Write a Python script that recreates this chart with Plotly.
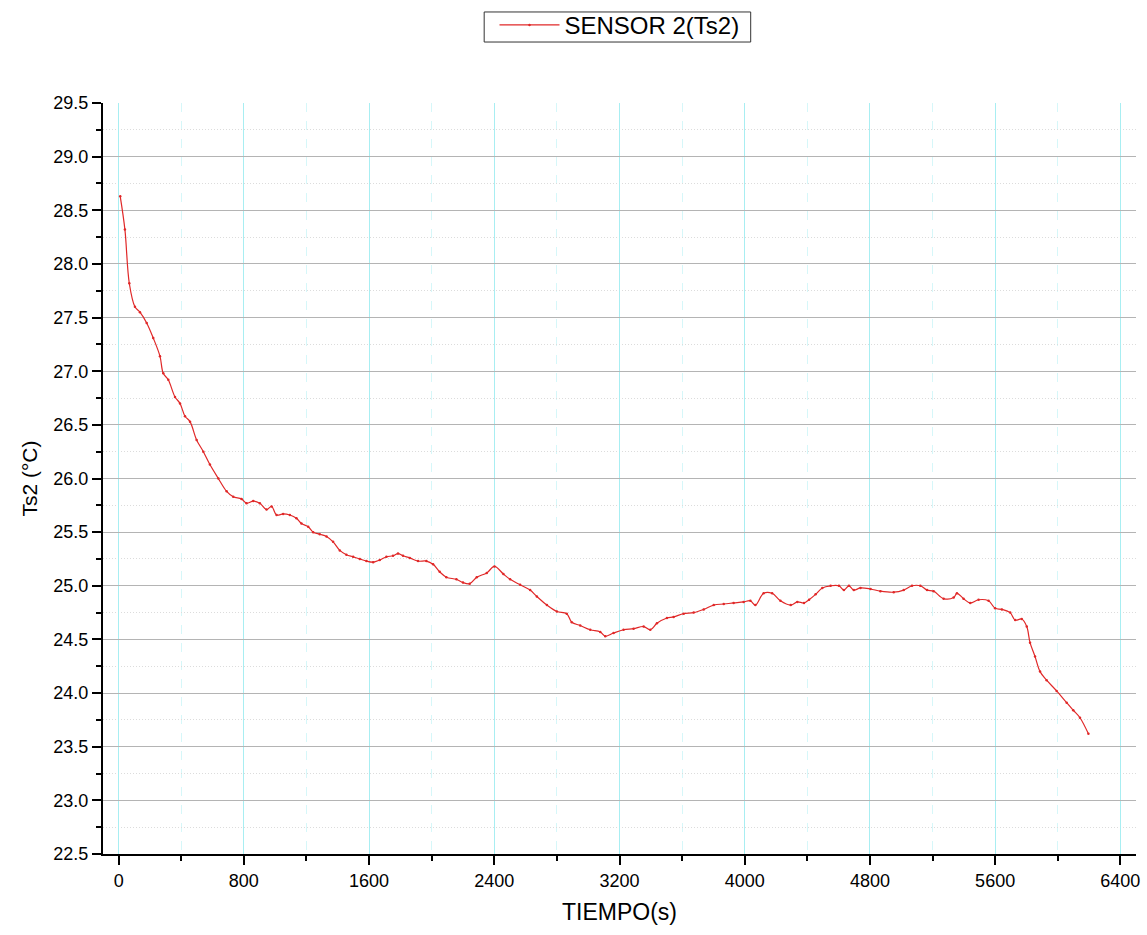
import plotly.graph_objects as go

tiempo = [10, 40, 68, 104, 136, 179, 221, 264, 285, 317, 360, 392, 424, 456, 498, 541, 583, 637, 690,
          732, 785, 817, 860, 902, 945, 977, 1009, 1051, 1094, 1136, 1168, 1211, 1243, 1285, 1328, 1370,
          1413, 1455, 1498, 1541, 1583, 1626, 1668, 1711, 1753, 1785, 1817, 1860, 1913, 1966, 2009, 2051,
          2094, 2158, 2200, 2243, 2288, 2352, 2401, 2458, 2501, 2565, 2629, 2672, 2736, 2800, 2863, 2895,
          2949, 3013, 3077, 3109, 3162, 3226, 3290, 3354, 3397, 3439, 3503, 3546, 3610, 3674, 3738, 3802,
          3866, 3929, 3993, 4036, 4068, 4121, 4175, 4228, 4294, 4336, 4379, 4411, 4453, 4496, 4549, 4602,
          4634, 4666, 4697, 4740, 4804, 4867, 4952, 5016, 5069, 5122, 5165, 5207, 5271, 5335, 5356, 5398,
          5441, 5494, 5558, 5600, 5643, 5696, 5728, 5770, 5802, 5823, 5855, 5887, 5929, 5993, 6057, 6099,
          6142, 6196]
ts2 = [28.63, 28.32, 27.82, 27.60, 27.55, 27.45, 27.31, 27.14, 26.98, 26.92, 26.76, 26.70, 26.58, 26.53,
       26.36, 26.25, 26.13, 26.00, 25.88, 25.83, 25.81, 25.77, 25.79, 25.77, 25.71, 25.74, 25.66, 25.67,
       25.66, 25.63, 25.58, 25.55, 25.50, 25.48, 25.46, 25.41, 25.33, 25.29, 25.27, 25.25, 25.23, 25.22,
       25.24, 25.27, 25.28, 25.30, 25.28, 25.26, 25.23, 25.23, 25.20, 25.13, 25.08, 25.06, 25.03, 25.02,
       25.08, 25.12, 25.18, 25.11, 25.06, 25.01, 24.96, 24.90, 24.82, 24.76, 24.74, 24.66, 24.63, 24.59,
       24.57, 24.53, 24.56, 24.59, 24.60, 24.62, 24.59, 24.65, 24.70, 24.71, 24.74, 24.75, 24.78, 24.82,
       24.83, 24.84, 24.85, 24.86, 24.82, 24.93, 24.93, 24.86, 24.82, 24.85, 24.84, 24.87, 24.92, 24.98,
       25.00, 25.00, 24.96, 25.00, 24.96, 24.98, 24.97, 24.95, 24.94, 24.96, 25.00, 25.00, 24.96, 24.95,
       24.88, 24.89, 24.93, 24.88, 24.84, 24.87, 24.86, 24.79, 24.78, 24.75, 24.68, 24.69, 24.62, 24.47,
       24.34, 24.20, 24.12, 24.02, 23.91, 23.84, 23.77, 23.62]

x_ticks = [0, 800, 1600, 2400, 3200, 4000, 4800, 5600, 6400]
y_ticks = [22.5, 23.0, 23.5, 24.0, 24.5, 25.0, 25.5, 26.0, 26.5, 27.0, 27.5, 28.0, 28.5, 29.0, 29.5]

RED = "#e02828"
FONT = "Liberation Sans, Arial, sans-serif"

fig = go.Figure()
fig.add_trace(go.Scatter(
    x=tiempo, y=ts2, mode="lines+markers", name="SENSOR 2(Ts2)",
    line=dict(color=RED, width=1.2, shape="spline", smoothing=1.0),
    marker=dict(color=RED, size=2.5),
))

fig.update_layout(
    width=1147, height=935,
    paper_bgcolor="white", plot_bgcolor="white",
    margin=dict(l=103, r=11, t=103, b=81, autoexpand=False),
    font=dict(family=FONT, color="black"),
    showlegend=True,
    legend=dict(x=0.5, xanchor="center", yref="container", y=0.997, yanchor="top", orientation="h",
                borderwidth=0, bgcolor="rgba(0,0,0,0)", font=dict(size=24, family=FONT),
                itemwidth=60, tracegroupgap=0),
    shapes=[dict(type="rect", xref="paper", yref="paper", x0=0.369, x1=0.627, y0=1.0812, y1=1.1212,
                 line=dict(color="#333", width=1), fillcolor="rgba(0,0,0,0)", layer="above")],
)
fig.update_xaxes(
    range=[-100, 6500], tickvals=x_ticks, ticktext=[str(v) for v in x_ticks],
    showline=True, linecolor="black", linewidth=2, mirror=False,
    ticks="outside", ticklen=9, tickwidth=2, tickcolor="black",
    tickfont=dict(size=18, family=FONT),
    showgrid=True, gridcolor="#a8eef2", gridwidth=1,
    minor=dict(dtick=400, tick0=0, ticks="outside", ticklen=5, tickwidth=2, tickcolor="black",
               showgrid=True, gridcolor="#d6f7f9", griddash="dash", gridwidth=1),
    zeroline=False,
    title=dict(text="TIEMPO(s)", font=dict(size=23, family=FONT), standoff=14),
)
fig.update_yaxes(
    range=[22.5, 29.5], tickvals=y_ticks, ticktext=[f"{v:.1f}" for v in y_ticks],
    showline=True, linecolor="black", linewidth=2, mirror=False,
    ticks="outside", ticklen=9, tickwidth=2, tickcolor="black",
    tickfont=dict(size=18, family=FONT),
    showgrid=True, gridcolor="#b4b4b4", gridwidth=1,
    minor=dict(dtick=0.25, tick0=22.5, ticks="outside", ticklen=5, tickwidth=2, tickcolor="black",
               showgrid=True, gridcolor="#dcdcdc", griddash="1px,2px", gridwidth=1),
    zeroline=False,
    title=dict(text="Ts2 (°C)", font=dict(size=21, family=FONT), standoff=10),
)

fig.write_html("out.html")
